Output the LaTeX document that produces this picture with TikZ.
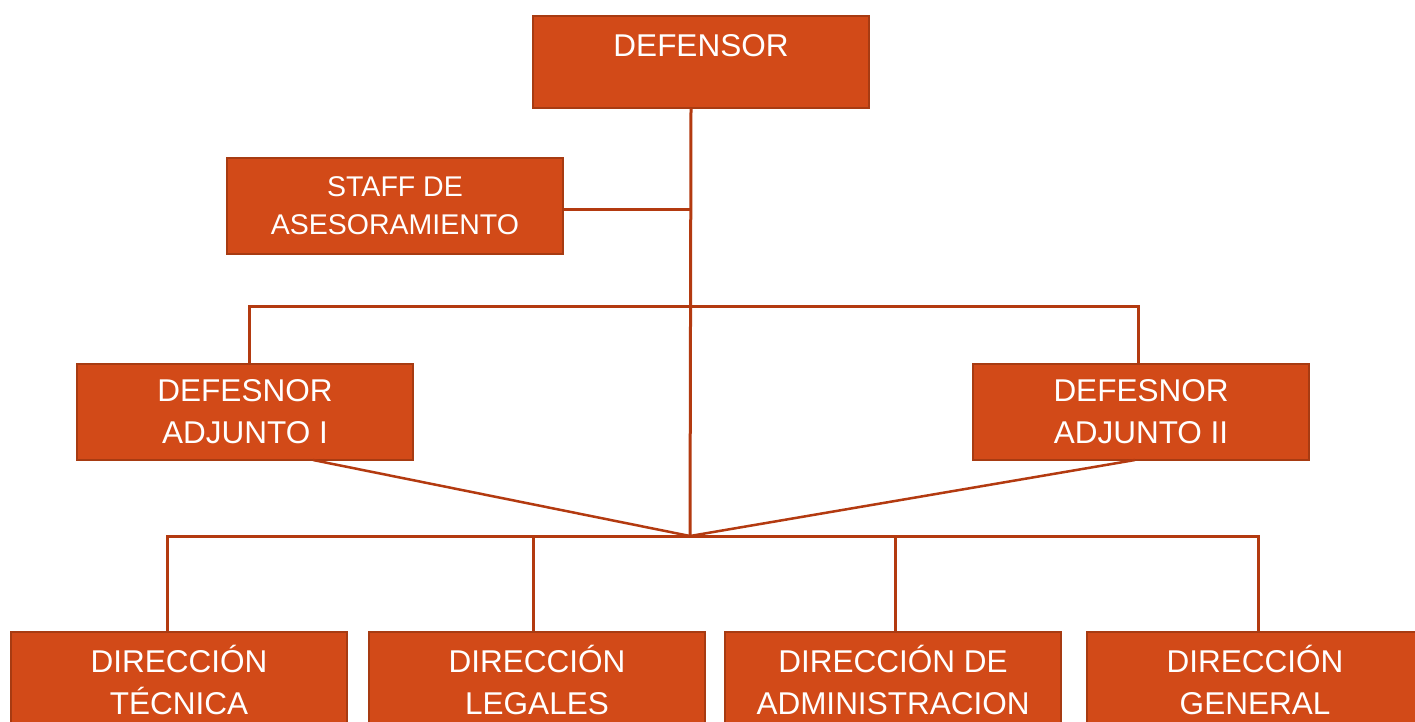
\documentclass[tikz,border=0pt]{standalone}
\usepackage{fontspec}
\setmainfont{Liberation Sans}
\definecolor{boxfill}{HTML}{D24A18}
\definecolor{boxline}{HTML}{A73B12}
\definecolor{conn}{HTML}{B33A10}
\begin{document}
\begin{tikzpicture}[x=1pt,y=-1pt,
  orgbox/.style={draw=boxline,line width=2.5pt,fill=boxfill,text=white,
    minimum width=336pt,minimum height=96pt,inner sep=0pt,align=center,
    font=\fontsize{31.5}{42}\selectfont},
  conline/.style={draw=conn,line width=3pt}]
\useasboundingbox (0,0) rectangle (1415,722);
\clip (0,0) rectangle (1415,722);
\fill[white] (0,0) rectangle (1415,722);
% nodes
\node[orgbox,minimum height=92pt] (def) at (701,62) {};
\node[text=white,font=\fontsize{31.5}{42}\selectfont,inner sep=0pt] (deft) at (701,46) {DEFENSOR};
\node[orgbox,font=\fontsize{28.5}{38}\selectfont] (staff) at (395,206) {STAFF DE\\ASESORAMIENTO};
\node[orgbox] (adj1) at (245,412) {DEFESNOR\\ADJUNTO I};
\node[orgbox] (adj2) at (1141,412) {DEFESNOR\\ADJUNTO II};
\node[orgbox] (dtec) at (179,680) {DIRECCIÓN\\TÉCNICA};
\node[orgbox] (dleg) at (537,680) {DIRECCIÓN\\LEGALES};
\node[orgbox] (dadm) at (893,680) {DIRECCIÓN DE\\ADMINISTRACION};
\node[orgbox] (dgen) at (1255,680) {DIRECCIÓN\\GENERAL};
% junctions
\coordinate (top) at (691,108);
\coordinate (j1) at (690,209);
\coordinate (j2) at (690,306);
\coordinate (j3) at (690,536);
\coordinate (a1) at (313,460);
\coordinate (a2) at (1135,460);
% connectors
\draw[conline] (top) -- (j3);
\draw[conline] (staff.east |- j1) -- (j1);
\draw[conline] (adj1.north -| 249,0) |- (j2) -| (adj2.north -| 1138,0);
\draw[conline,line width=2.5pt] (a1) -- (j3) -- (a2);
\draw[conline] (dtec.north -| 167,0) |- (j3) -| (dgen.north -| 1258,0);
\draw[conline] (dleg.north -| 533,0) -- (533,536);
\draw[conline] (dadm.north -| 895,0) -- (895,536);
\end{tikzpicture}
\end{document}
